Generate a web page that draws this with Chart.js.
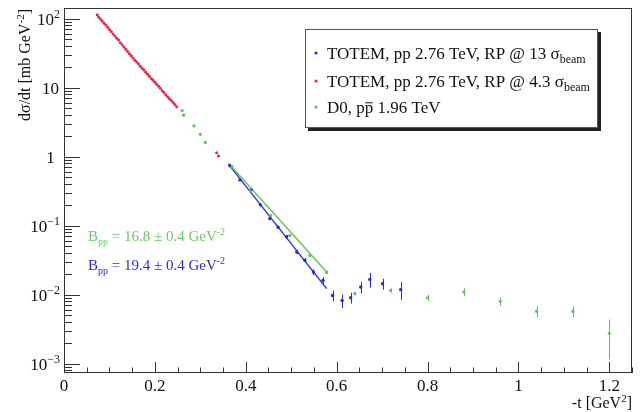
<!DOCTYPE html>
<html>
<head>
<meta charset="utf-8">
<script src="https://cdn.jsdelivr.net/npm/chart.js@4.4.1/dist/chart.umd.min.js"></script>
<style>
  html, body { margin: 0; padding: 0; background: #fff; }
</style>
</head>
<body>
<canvas id="chart" width="641" height="412"></canvas>
<script>
// TOTEM 4.3 sigma (red)
const redT = [0.073, 0.076, 0.080, 0.084, 0.088, 0.092, 0.096, 0.100, 0.104, 0.108,
              0.112, 0.116, 0.120, 0.124, 0.128, 0.132, 0.136, 0.140, 0.144, 0.148,
              0.152, 0.156, 0.160, 0.164, 0.168, 0.172, 0.176, 0.180, 0.184, 0.188,
              0.192, 0.196, 0.200, 0.204, 0.208, 0.212, 0.216, 0.220, 0.224, 0.228,
              0.232, 0.236, 0.240, 0.244, 0.248, 0.336, 0.340];
const redY = [114, 106, 99, 93, 86, 81, 75, 70, 65, 60,
              56, 52, 49, 45, 42, 39, 36, 33.5, 31, 29,
              27, 25, 23.5, 22, 20.5, 19.2, 18, 16.8, 15.6, 14.6,
              13.6, 12.8, 12.0, 11.2, 10.5, 9.8, 9.0, 8.5, 7.9, 7.4,
              6.9, 6.5, 6.1, 5.7, 5.3, 1.14, 1.02];

// TOTEM 13 sigma (blue)
const blueT = [0.365, 0.387, 0.412, 0.432, 0.453, 0.471, 0.490, 0.512, 0.530, 0.549,
               0.570, 0.591, 0.612, 0.631, 0.653, 0.673, 0.701, 0.741];
const blueY = [0.74, 0.46, 0.33, 0.20, 0.127, 0.095, 0.069, 0.0415, 0.0314, 0.0212,
               0.0161, 0.0097, 0.0082, 0.0090, 0.0129, 0.0166, 0.0144, 0.0118];
const blueErr = [0.03, 0.02, 0.015, 0.01, 0.007, 0.005, 0.004, 0.003, 0.0025, 0.002,
                 0.0018, 0.0017, 0.0018, 0.0016, 0.0024, 0.004, 0.0026, 0.0034];

// D0 1.96 TeV (green)
const greenT = [0.260, 0.263, 0.286, 0.300, 0.311, 0.370, 0.410, 0.455, 0.497, 0.541,
                0.578, 0.640, 0.719, 0.800, 0.880, 0.960, 1.040, 1.120, 1.200];
const greenY = [4.65, 4.0, 2.79, 2.11, 1.61, 0.72, 0.32, 0.14, 0.072, 0.037,
                0.021, 0.0103, 0.0115, 0.0090, 0.0109, 0.0080, 0.0057, 0.0057, 0.00275];
const greenErr = [0.1, 0.1, 0.07, 0.05, 0.04, 0.02, 0.01, 0.005, 0.003, 0.0018,
                  0.0011, 0.0006, 0.0008, 0.0009, 0.0014, 0.0011, 0.001, 0.001, 0.0016];

// exponential fits
const fitT = [0.362, 0.578];
const blueFitY = [0.78, 0.0122];
const greenFitY = [0.80, 0.0212];

const xTickLabels = ["0", "0.2", "0.4", "0.6", "0.8", "1", "1.2"];
const xTickValues = [0, 0.2, 0.4, 0.6, 0.8, 1.0, 1.2];
const yTickExp = [-3, -2, -1, 0, 1, 2];

const legendLabels = [
  [["TOTEM, pp 2.76 TeV, RP @ 13 σ", 0], ["beam", -1]],
  [["TOTEM, pp 2.76 TeV, RP @ 4.3 σ", 0], ["beam", -1]],
  [["D0, p", 0], ["p", 2], [" 1.96 TeV", 0]]
];

const RED = "#e8234a", BLUE = "#2b2bd0", GREEN = "#5cc25c";
const FONT = '"Liberation Serif", "DejaVu Serif", serif';

function pts(xs, ys) { return xs.map((x, i) => ({ x, y: ys[i] })); }

function rich(ctx, parts, x, y, size, color, align) {
  ctx.save();
  ctx.fillStyle = color;
  ctx.strokeStyle = color;
  ctx.textBaseline = "alphabetic";
  ctx.textAlign = "left";
  const fontOf = (m) => (m === 1 || m === -1 ? Math.round(size * 0.68) : size) + "px " + FONT;
  const widths = parts.map(([s, m]) => { ctx.font = fontOf(m); return ctx.measureText(s).width; });
  const total = widths.reduce((a, b) => a + b, 0);
  let cx = align === "right" ? x - total : align === "center" ? x - total / 2 : x;
  parts.forEach(([s, m], i) => {
    ctx.font = fontOf(m);
    const dy = m === 1 ? -size * 0.4 : m === -1 ? size * 0.25 : 0;
    ctx.fillText(s, cx, y + dy);
    if (m === 2) {
      ctx.lineWidth = 1;
      ctx.beginPath();
      ctx.moveTo(cx + 0.5, y - size * 0.6);
      ctx.lineTo(cx + widths[i] - 0.5, y - size * 0.6);
      ctx.stroke();
    }
    cx += widths[i];
  });
  ctx.restore();
  return total;
}

const decor = {
  id: "decor",
  beforeDatasetsDraw(chart) {
    const { ctx, scales: { x, y } } = chart;
    const bars = (ts, ys, es, color) => {
      ctx.save();
      ctx.strokeStyle = color;
      ctx.lineWidth = 1;
      ts.forEach((t, i) => {
        const px = Math.round(x.getPixelForValue(t)) + 0.5;
        const lo = Math.max(ys[i] - es[i], y.min);
        ctx.beginPath();
        ctx.moveTo(px, y.getPixelForValue(ys[i] + es[i]));
        ctx.lineTo(px, y.getPixelForValue(lo));
        ctx.stroke();
      });
      ctx.restore();
    };
    bars(greenT, greenY, greenErr, GREEN);
    bars(blueT, blueY, blueErr, BLUE);
  },
  afterDraw(chart) {
    const { ctx, chartArea: a, scales: { x, y } } = chart;
    ctx.save();
    // frame
    ctx.strokeStyle = "#333";
    ctx.lineWidth = 1;
    ctx.strokeRect(Math.round(a.left) + 0.5, Math.round(a.top) + 0.5,
                   Math.round(a.right - a.left) - 1, Math.round(a.bottom - a.top) - 1);
    // x ticks
    ctx.beginPath();
    for (let v = 0; v <= 1.25 + 1e-9; v += 0.05) {
      const px = Math.round(x.getPixelForValue(v)) + 0.5;
      const major = Math.abs(v / 0.2 - Math.round(v / 0.2)) < 1e-6;
      ctx.moveTo(px, a.bottom);
      ctx.lineTo(px, a.bottom - (major ? 11 : 5.5));
    }
    // y ticks
    for (let e = -4; e <= 2; e++) {
      for (let k = 1; k <= 9; k++) {
        const v = k * Math.pow(10, e);
        if (v < y.min || v > y.max) continue;
        const py = Math.round(y.getPixelForValue(v)) + 0.5;
        ctx.moveTo(a.left, py);
        ctx.lineTo(a.left + (k === 1 ? 16 : 8), py);
      }
    }
    ctx.stroke();

    // x tick labels
    ctx.fillStyle = "#111";
    ctx.font = "17px " + FONT;
    ctx.textAlign = "center";
    ctx.textBaseline = "middle";
    xTickValues.forEach((v, i) => ctx.fillText(xTickLabels[i], x.getPixelForValue(v), a.bottom + 14));

    // y tick labels
    yTickExp.forEach((e) => {
      const py = y.getPixelForValue(Math.pow(10, e));
      const base = py + 6;
      if (e === 0) rich(ctx, [["1", 0]], 50.5, base, 17, "#111", "center");
      else if (e === 1) rich(ctx, [["10", 0]], 50.5, base, 17, "#111", "center");
      else rich(ctx, [["10", 0], [e < 0 ? "\u2212" + (-e) : String(e), 1]], 60, base, 17, "#111", "right");
    });

    // axis titles
    rich(ctx, [["-t [GeV", 0], ["2", 1], ["]", 0]], a.right, 408, 16, "#111", "right");
    ctx.save();
    ctx.translate(30, 9);
    ctx.rotate(-Math.PI / 2);
    rich(ctx, [["dσ/dt [mb GeV", 0], ["-2", 1], ["]", 0]], 0, 0, 16, "#111", "right");
    ctx.restore();

    // fit annotations
    rich(ctx, [["B", 0], ["pp", -1], [" = 16.8 ± 0.4 GeV", 0], ["-2", 1]], 88, 241, 15, "#6cc86c", "left");
    rich(ctx, [["B", 0], ["pp", -1], [" = 19.4 ± 0.4 GeV", 0], ["-2", 1]], 88, 270, 15, BLUE, "left");

    // legend
    const lx = 305, ly = 29, lw = 293, lh = 99;
    ctx.fillStyle = "#222";
    ctx.fillRect(lx + 3, ly + 3, lw, lh);
    ctx.fillStyle = "#fff";
    ctx.fillRect(lx, ly, lw, lh);
    ctx.strokeStyle = "#555";
    ctx.strokeRect(lx + 0.5, ly + 0.5, lw - 1, lh - 1);
    const colors = [BLUE, RED, GREEN];
    const rows = [53, 81, 107];
    legendLabels.forEach((parts, i) => {
      ctx.fillStyle = colors[i];
      ctx.beginPath();
      ctx.arc(316, rows[i], 1.6, 0, Math.PI * 2);
      ctx.fill();
      rich(ctx, parts, 327, rows[i] + 6, 17, "#111", "left");
    });
    ctx.restore();
  }
};

new Chart(document.getElementById("chart"), {
  type: "scatter",
  data: {
    datasets: [
      { label: "D0", data: pts(greenT, greenY), backgroundColor: GREEN, borderWidth: 0, pointRadius: 1.6 },
      { label: "TOTEM 4.3", data: pts(redT, redY), backgroundColor: RED, borderWidth: 0, pointRadius: 1.5 },
      { label: "TOTEM 13", data: pts(blueT, blueY), backgroundColor: BLUE, borderWidth: 0, pointRadius: 1.7 },
      { type: "line", label: "D0 fit", data: pts(fitT, greenFitY), borderColor: "#6cc25a", borderWidth: 1.5, pointRadius: 0, fill: false },
      { type: "line", label: "TOTEM fit", data: pts(fitT, blueFitY), borderColor: "#3535d8", borderWidth: 1.5, pointRadius: 0, fill: false }
    ]
  },
  options: {
    responsive: false,
    animation: false,
    devicePixelRatio: 1,
    layout: { padding: { left: 64, right: 9, top: 8, bottom: 39 } },
    scales: {
      x: { type: "linear", min: 0, max: 1.25, display: false },
      y: { type: "logarithmic", min: 7.3e-4, max: 143, display: false }
    },
    plugins: { legend: { display: false }, tooltip: { enabled: false } }
  },
  plugins: [decor]
});
</script>
</body>
</html>
